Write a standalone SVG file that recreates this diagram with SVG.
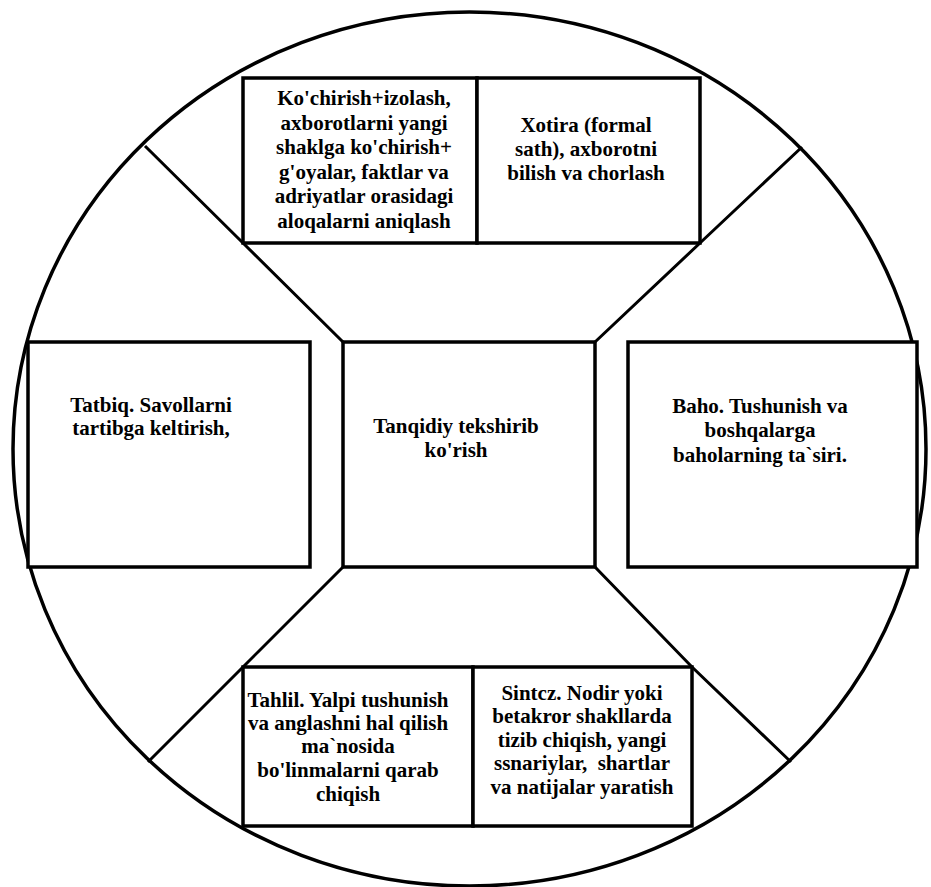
<svg xmlns="http://www.w3.org/2000/svg" width="931" height="887" viewBox="0 0 931 887">
<style>
.ring{fill:none;stroke:#000;stroke-width:3.5}
.box{fill:#fff;stroke:#000;stroke-width:3.5}
.conn{fill:none;stroke:#000;stroke-width:3}
text{font-family:"Liberation Serif","Times New Roman",serif;font-size:21px;font-weight:bold;fill:#000;text-anchor:middle;white-space:pre}
</style>
<rect x="0" y="0" width="931" height="887" fill="#fff"/>
<g id="ring"><ellipse class="ring" cx="469.5" cy="449" rx="456.5" ry="437"/></g>
<g id="connectors">
<polyline class="conn" points="145,146 243,243 343,342"/>
<polyline class="conn" points="802,147 700,243 595,342"/>
<polyline class="conn" points="148,762 243,667 343,567"/>
<polyline class="conn" points="791,762 692,667 595,567"/>
</g>
<g id="node-kochirish">
<rect class="box" x="243" y="78" width="234" height="165"/>
<text x="364" y="105">Ko'chirish+izolash,</text>
<text x="364" y="129.5">axborotlarni yangi</text>
<text x="364" y="154">shaklga ko'chirish+</text>
<text x="364" y="178.5">g'oyalar, faktlar va</text>
<text x="364" y="203">adriyatlar orasidagi</text>
<text x="364" y="227.5">aloqalarni aniqlash</text>
</g>
<g id="node-xotira">
<rect class="box" x="477" y="78" width="223" height="165"/>
<text x="586" y="132">Xotira (formal</text>
<text x="586" y="156">sath), axborotni</text>
<text x="586" y="180">bilish va chorlash</text>
</g>
<g id="node-tatbiq">
<rect class="box" x="28" y="342" width="282" height="225"/>
<text x="151" y="412">Tatbiq. Savollarni</text>
<text x="151" y="435">tartibga keltirish,</text>
</g>
<g id="node-tanqidiy">
<rect class="box" x="343" y="342" width="252" height="225"/>
<text x="456" y="433">Tanqidiy tekshirib</text>
<text x="456" y="457">ko'rish</text>
</g>
<g id="node-baho">
<rect class="box" x="628" y="342" width="289" height="225"/>
<text x="760" y="413">Baho. Tushunish va</text>
<text x="760" y="437">boshqalarga</text>
<text x="760" y="462">baholarning ta`siri.</text>
</g>
<g id="node-tahlil">
<rect class="box" x="243" y="667" width="230" height="159"/>
<text x="348" y="707">Tahlil. Yalpi tushunish</text>
<text x="348" y="730">va anglashni hal qilish</text>
<text x="348" y="753">ma`nosida</text>
<text x="348" y="777">bo'linmalarni qarab</text>
<text x="348" y="801">chiqish</text>
</g>
<g id="node-sintez">
<rect class="box" x="473" y="667" width="219" height="159"/>
<text x="582" y="700">Sintcz. Nodir yoki</text>
<text x="582" y="723">betakror shakllarda</text>
<text x="582" y="747">tizib chiqish, yangi</text>
<text x="582" y="770">ssnariylar,  shartlar</text>
<text x="582" y="794">va natijalar yaratish</text>
</g>
</svg>
